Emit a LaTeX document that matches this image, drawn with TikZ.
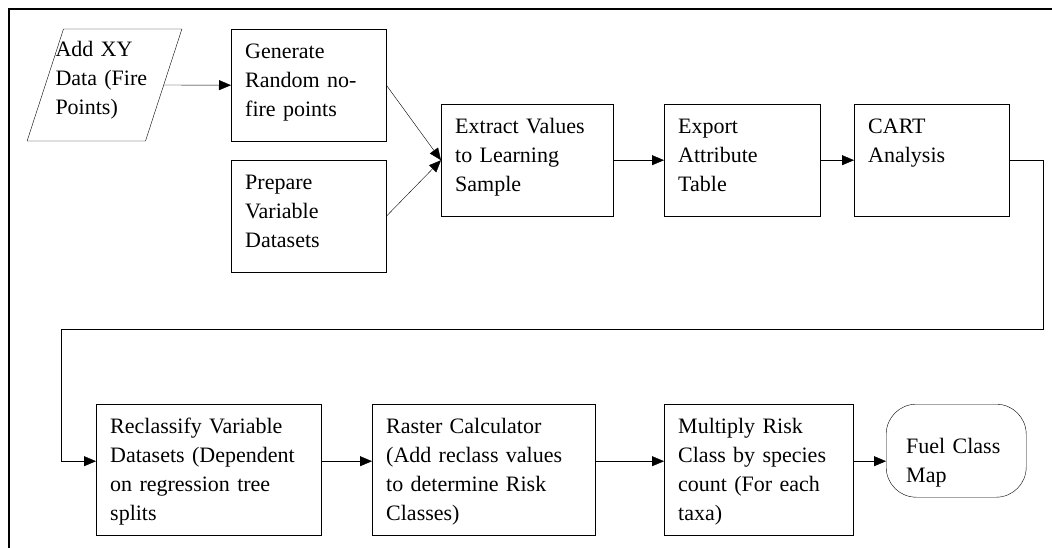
\documentclass[tikz,border=0pt]{standalone}
\usepackage{fontspec}
\setmainfont{Liberation Serif}
\usetikzlibrary{arrows.meta,shapes.geometric}

\tikzset{
    >={Triangle[length=12pt,width=10pt]}, line width=1.3pt,
    every node/.style={font=\fontsize{22}{29}\selectfont},
    stepbox/.style={draw, rectangle, anchor=north west, align=left, inner xsep=14pt, inner ysep=0pt, text height=29pt, text width=#1},
    toprow/.style={text depth=83pt},
    lowrow/.style={text depth=102pt},
    datain/.style={draw, trapezium, trapezium left angle=72, trapezium right angle=108, inner xsep=-8pt, inner ysep=0pt, text width=98pt, align=left, text height=28pt, text depth=84pt},
    mapout/.style={draw, rectangle, rounded corners=30pt, anchor=north west, align=left, inner xsep=20pt, inner ysep=0pt, text width=100pt, text height=49pt, text depth=44pt}, % terminator
    flow/.style={->},
    frame/.style={line width=1.6pt},
}

\begin{document}
\begin{tikzpicture}[x=1pt, y=-1pt]
    \useasboundingbox (0,0) rectangle (1052,548);
    \draw[frame] (9,548) -- (9,9) -- (1052,9);

    \node [datain] (addxy) at (104.5,85) {Add XY\\Data (Fire\\Points)};
    \node [stepbox=127pt, toprow] (gen) at (231,29) {Generate\\Random no-\\fire points};
    \node [stepbox=127pt, toprow] (prep) at (231,160) {Prepare\\Variable\\Datasets};
    \node [stepbox=144pt, toprow] (extr) at (441,104) {Extract Values\\to Learning\\Sample};
    \node [stepbox=128pt, toprow] (expt) at (664,104) {Export\\Attribute\\Table};
    \node [stepbox=127pt, toprow] (cart) at (854,104) {CART\\Analysis};

    \node [stepbox=197pt, lowrow] (recl) at (96,404) {Reclassify Variable\\Datasets (Dependent\\on regression tree\\splits};
    \node [stepbox=195pt, lowrow] (rast) at (372,404) {Raster Calculator\\(Add reclass values\\to determine Risk\\Classes)};
    \node [stepbox=161pt, lowrow] (mult) at (664,404) {Multiply Risk\\Class by species\\count (For each\\taxa)};
    \node [mapout] (fuel) at (886,404) {Fuel Class\\Map};

    \coordinate (turnR) at (1043,329);
    \coordinate (turnL) at (61,329);

    \draw[flow] (addxy.east) -- (gen.west);
    \draw[flow] (gen.east) -- (extr.west);
    \draw[flow] (prep.east) -- (extr.west);
    \draw[flow] (extr.east) -- (expt.west);
    \draw[flow] (expt.east) -- (cart.west);
    \draw[flow] (cart.east) -| (turnR) -- (turnL) |- ([yshift=8.5pt]recl.west);
    \draw[flow] ([yshift=8.5pt]recl.east) -- ([yshift=8.5pt]rast.west);
    \draw[flow] ([yshift=8.5pt]rast.east) -- ([yshift=8.5pt]mult.west);
    \draw[flow] ([yshift=8.5pt]mult.east) -- ([yshift=8.5pt]mult.east -| fuel.west);
\end{tikzpicture}
\end{document}
